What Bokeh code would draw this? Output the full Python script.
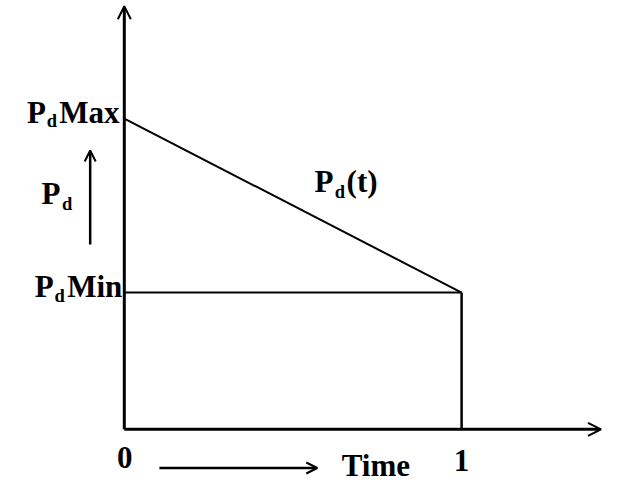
from bokeh.plotting import figure
from bokeh.models import Range1d, Arrow, OpenHead
from bokeh.core.properties import value
from bokeh.embed import file_html
from bokeh.resources import INLINE

# ---- data ----
time = [0.0, 1.0]            # normalised time
pd_t = [1.0, 0.44]           # Pd(t): falls linearly from PdMax to PdMin
pd_max = 1.0
pd_min = 0.44
x_ticks = [0.0, 1.0]
x_tick_labels = ["0", "1"]

# ---- layout (pixels) ----
W, H = 620, 483
SX, SY = W / 636.0, H / 499.0   # reference px -> figure px
OX, OY = 127, 443               # reference position of the origin
XS = (473 - 127) * SX           # px per time unit
YS = (443 - 122) * SY           # px per Pd unit


def px2x(rx):
    return (rx - OX) * SX / XS


def py2y(ry):
    return (OY - ry) * SY / YS


p = figure(width=W, height=H, output_backend="svg", toolbar_location=None,
           x_range=Range1d(px2x(0), px2x(636)),
           y_range=Range1d(py2y(499), py2y(0)),
           min_border=0, title=None)
p.axis.visible = False
p.grid.visible = False
p.outline_line_color = None
p.background_fill_color = "white"
p.border_fill_color = "white"

BLACK = "black"

# Pd(t) line
p.line(time, pd_t, line_width=2, line_color=BLACK)
# PdMin level
p.line([time[0], time[1]], [pd_min, pd_min], line_width=2, line_color=BLACK)
# end of interval
p.line([time[1], time[1]], [0, pd_min], line_width=2.5, line_color=BLACK)

# axes with arrows
p.add_layout(Arrow(end=OpenHead(size=13, line_width=2, line_color=BLACK),
                   x_start=0, y_start=0, x_end=0, y_end=py2y(6),
                   line_width=3, line_color=BLACK))
p.add_layout(Arrow(end=OpenHead(size=13, line_width=2, line_color=BLACK),
                   x_start=0, y_start=0, x_end=px2x(616), y_end=0,
                   line_width=3, line_color=BLACK))
# Pd direction arrow
p.add_layout(Arrow(end=OpenHead(size=11, line_width=2, line_color=BLACK),
                   x_start=px2x(92), y_start=py2y(252), x_end=px2x(92), y_end=py2y(155),
                   line_width=2.5, line_color=BLACK))
# Time direction arrow
p.add_layout(Arrow(end=OpenHead(size=11, line_width=2, line_color=BLACK),
                   x_start=px2x(163), y_start=py2y(483), x_end=px2x(325), y_end=py2y(483),
                   line_width=2.5, line_color=BLACK))

FONT = value("Liberation Serif")
BIG, SMALL = 31, 18.5
BASE_FIX = 0.39   # empirical baseline correction (fraction of font size)


def txt(x, y, s, size=BIG, align="left", xo=0, yo=0):
    p.text(x=[x], y=[y], text=[s], text_font=FONT, text_font_style="bold",
           text_font_size=f"{size}px", text_align=align, text_baseline="alphabetic",
           x_offset=xo * SX, y_offset=yo * SY - BASE_FIX * size, text_color=BLACK)


# PdMax label
txt(0, pd_max, "Max", align="right", xo=-5, yo=6)
txt(0, pd_max, "d", SMALL, align="right", xo=-69, yo=10)
txt(0, pd_max, "P", align="right", xo=-80.5, yo=6)

# PdMin label
txt(0, pd_min, "Min", align="right", xo=-2, yo=6)
txt(0, pd_min, "d", SMALL, align="right", xo=-61, yo=11)
txt(0, pd_min, "P", align="right", xo=-72.5, yo=6)

# Pd label beside the arrow
ax, ay = px2x(42), py2y(212)
txt(ax, ay, "P")
txt(ax, ay, "d", SMALL, xo=21, yo=6)

# Pd(t) label
bx, by = px2x(322), py2y(199)
txt(bx, by, "P")
txt(bx, by, "d", SMALL, xo=21, yo=6)
txt(bx, by, "(t)", xo=33)

# x tick labels
txt(x_ticks[0], 0, x_tick_labels[0], align="center", xo=0.5, yo=42)
txt(x_ticks[1], 0, x_tick_labels[1], align="center", yo=45)

# Time label
txt(px2x(350), 0, "Time", yo=50)

open("out.html", "w").write(file_html(p, INLINE))
